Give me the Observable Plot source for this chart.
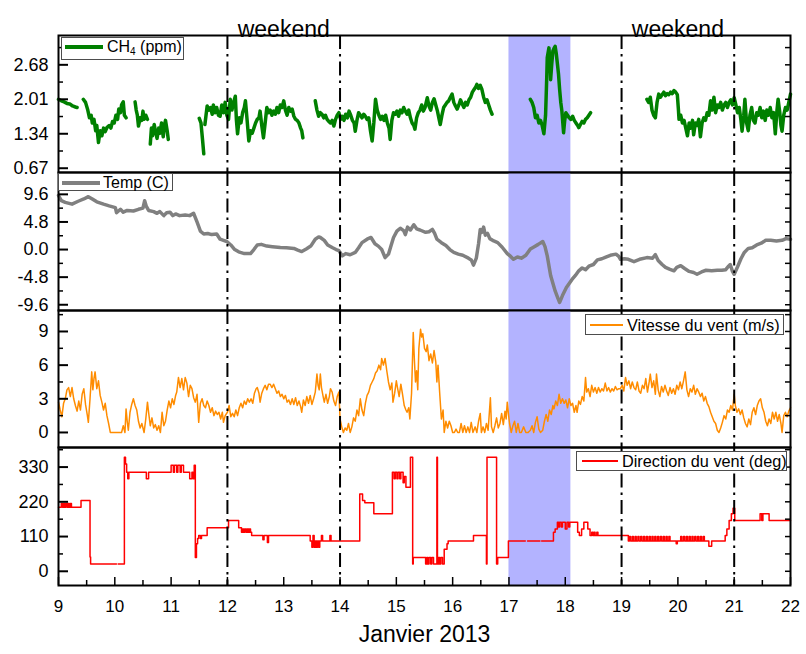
<!DOCTYPE html>
<html><head><meta charset="utf-8">
<script src="https://cdn.jsdelivr.net/npm/d3@7"></script>
<script src="https://cdn.jsdelivr.net/npm/@observablehq/plot@0.6"></script>
<style>
body{margin:0;background:#fff;}
#chart{position:relative;width:806px;height:654px;font-family:"Liberation Sans",Arial,sans-serif;color:#000;overflow:hidden;}
#chart svg{position:absolute;left:0;}
.lg{position:absolute;white-space:nowrap;}
</style></head><body><div id="chart"></div><script>
// ---------- data ----------
const xDomain = [9, 22];
const dayTicks = [9,10,11,12,13,14,15,16,17,18,19,20,21,22];
const halfDayTicks = [9.5,10.5,11.5,12.5,13.5,14.5,15.5,16.5,17.5,18.5,19.5,20.5,21.5];
const weekendBounds = [12, 14, 19, 21];
const weekendLabels = [{x: 13, text: "weekend"}, {x: 20, text: "weekend"}];
const highlight = [[17, 18.1]];
const xTitle = "Janvier 2013";

const ch4Ticks = [0.67, 1.34, 2.01, 2.68];
const ch4Minor = [1.005, 1.675, 2.345, 3.015];
const tempTicks = [-9.6, -4.8, 0, 4.8, 9.6];
const tempMinor = [-7.2, -2.4, 2.4, 7.2, 12.0];
const speedTicks = [0, 3, 6, 9];
const speedMinor = [1.5, 4.5, 7.5, 10.5];
const dirTicks = [0, 110, 220, 330];
const dirMinor = [55, 165, 275, 385];

// CH4 (ppm)
const ch4 = [[9.00,2.01],[9.05,1.98],[9.10,1.96],[9.15,1.93],[9.20,1.92],[9.25,1.88],[9.30,1.86],[9.33,1.85],[9.34,null],
[9.44,2.01],[9.48,1.95],[9.52,1.80],[9.55,1.65],[9.58,1.70],[9.60,1.55],[9.63,1.62],[9.66,1.40],[9.68,1.50],[9.71,1.17],[9.74,1.40],[9.77,1.30],[9.80,1.45],[9.83,1.38],[9.86,1.46],[9.90,1.50],[9.93,1.45],[9.96,1.58],[9.99,1.55],[10.02,1.70],[10.05,1.62],[10.07,1.82],[10.10,1.75],[10.12,1.90],[10.15,1.96],[10.17,1.70],[10.20,1.65],[10.21,null],
[10.36,1.96],[10.38,1.80],[10.40,1.70],[10.42,1.49],[10.45,1.65],[10.48,1.60],[10.50,1.78],[10.52,1.62],[10.55,1.70],[10.58,1.62],[10.60,null],
[10.63,1.14],[10.65,1.45],[10.67,1.30],[10.70,1.52],[10.72,1.40],[10.75,1.25],[10.78,1.45],[10.80,1.35],[10.83,1.55],[10.86,1.28],[10.88,1.50],[10.90,1.60],[10.93,1.40],[10.95,1.23],[10.96,null],
[11.50,1.64],[11.53,1.55],[11.56,1.20],[11.58,0.95],[11.59,null],
[11.60,1.52],[11.62,1.70],[11.64,1.88],[11.67,1.80],[11.70,1.85],[11.73,1.72],[11.75,1.90],[11.78,1.75],[11.81,1.85],[11.84,1.70],[11.87,1.68],[11.90,1.90],[11.93,1.75],[11.96,1.95],[11.99,1.70],[12.02,1.62],[12.05,2.01],[12.08,1.80],[12.11,1.95],[12.14,2.07],[12.16,1.60],[12.18,1.34],[12.21,1.65],[12.24,1.55],[12.27,1.75],[12.30,1.85],[12.32,1.98],[12.35,1.60],[12.38,1.20],[12.41,1.40],[12.44,1.35],[12.47,1.45],[12.50,1.55],[12.53,1.62],[12.56,1.65],[12.58,1.78],[12.61,1.50],[12.64,1.26],[12.67,1.55],[12.70,1.85],[12.73,1.75],[12.76,1.80],[12.79,1.70],[12.82,1.78],[12.85,1.72],[12.88,1.85],[12.91,1.75],[12.94,1.90],[12.97,1.85],[13.00,1.98],[13.03,1.80],[13.06,1.70],[13.09,1.85],[13.12,1.78],[13.15,1.82],[13.18,1.68],[13.21,1.62],[13.24,1.60],[13.27,1.55],[13.30,1.45],[13.32,1.40],[13.34,1.26],[13.35,null],
[13.56,1.98],[13.59,1.80],[13.62,1.68],[13.65,1.75],[13.68,1.72],[13.71,1.65],[13.74,1.70],[13.77,1.62],[13.80,1.58],[13.83,1.55],[13.86,1.60],[13.89,1.49],[13.92,1.62],[13.95,1.70],[13.98,1.75],[14.01,1.62],[14.04,1.68],[14.07,1.60],[14.10,1.72],[14.13,1.65],[14.16,1.78],[14.19,1.70],[14.22,1.60],[14.25,1.55],[14.27,1.39],[14.30,1.60],[14.33,1.75],[14.36,1.70],[14.39,1.65],[14.42,1.72],[14.45,1.68],[14.48,1.62],[14.51,1.65],[14.54,1.40],[14.57,1.20],[14.60,1.55],[14.63,2.01],[14.66,1.80],[14.69,1.70],[14.72,1.62],[14.75,1.68],[14.78,1.60],[14.81,1.70],[14.84,1.55],[14.87,1.45],[14.89,1.23],[14.92,1.60],[14.95,1.75],[14.98,1.72],[15.01,1.78],[15.04,1.68],[15.07,1.80],[15.10,1.75],[15.13,1.85],[15.16,1.78],[15.19,1.72],[15.22,1.80],[15.25,1.65],[15.28,1.55],[15.31,1.50],[15.33,1.43],[15.36,1.65],[15.39,1.75],[15.42,1.80],[15.45,1.90],[15.48,1.78],[15.51,1.85],[15.53,1.95],[15.55,2.04],[15.58,1.88],[15.61,1.80],[15.64,1.95],[15.67,2.02],[15.70,1.90],[15.73,1.78],[15.76,1.62],[15.78,1.52],[15.81,1.70],[15.84,1.85],[15.87,1.90],[15.90,1.95],[15.93,1.98],[15.96,2.05],[15.99,2.11],[16.02,1.95],[16.05,1.88],[16.08,1.82],[16.11,1.90],[16.14,2.00],[16.17,1.92],[16.20,1.85],[16.23,1.95],[16.26,1.90],[16.29,2.00],[16.32,2.05],[16.35,2.15],[16.38,2.20],[16.41,2.25],[16.43,2.30],[16.46,2.22],[16.49,2.28],[16.52,2.20],[16.55,2.05],[16.58,1.95],[16.61,2.00],[16.64,1.90],[16.67,1.80],[16.70,1.72],[16.71,null],
[17.38,2.01],[17.41,1.95],[17.44,1.85],[17.47,1.65],[17.50,1.70],[17.53,1.55],[17.56,1.60],[17.59,1.50],[17.62,1.34],[17.65,1.70],[17.67,2.40],[17.68,2.82],[17.70,2.95],[17.71,3.01],[17.73,2.70],[17.74,2.39],[17.76,2.70],[17.78,2.95],[17.80,3.00],[17.82,3.04],[17.84,2.90],[17.86,2.70],[17.88,2.50],[17.90,2.20],[17.92,1.95],[17.94,1.78],[17.96,1.50],[17.97,1.36],[17.99,1.60],[18.01,1.75],[18.04,1.70],[18.07,1.65],[18.10,1.62],[18.13,1.68],[18.16,1.60],[18.19,1.55],[18.22,1.50],[18.24,1.46],[18.27,1.52],[18.30,1.58],[18.33,1.55],[18.36,1.62],[18.39,1.65],[18.42,1.70],[18.45,1.75],[18.46,null],
[19.45,2.01],[19.48,1.95],[19.51,2.05],[19.54,1.80],[19.57,1.70],[19.60,1.65],[19.63,1.95],[19.66,2.11],[19.69,2.05],[19.72,2.10],[19.75,2.15],[19.78,2.08],[19.81,2.12],[19.84,2.10],[19.87,2.15],[19.90,2.12],[19.93,2.18],[19.96,2.15],[19.99,2.10],[20.01,1.80],[20.02,1.62],[20.05,1.70],[20.08,1.55],[20.11,1.60],[20.14,1.45],[20.17,1.30],[20.20,1.55],[20.23,1.45],[20.26,1.60],[20.28,1.32],[20.31,1.55],[20.34,1.50],[20.37,1.62],[20.40,1.28],[20.43,1.55],[20.46,1.65],[20.49,1.60],[20.52,1.75],[20.55,1.70],[20.58,1.98],[20.61,1.80],[20.64,2.05],[20.67,1.75],[20.70,1.90],[20.73,1.85],[20.76,1.95],[20.79,1.80],[20.82,1.90],[20.85,1.95],[20.88,1.85],[20.91,1.95],[20.94,2.00],[20.97,1.90],[21.00,2.04],[21.03,1.90],[21.06,1.75],[21.09,1.85],[21.12,1.60],[21.14,1.39],[21.17,1.70],[21.19,2.01],[21.22,1.55],[21.25,1.40],[21.28,1.70],[21.31,1.85],[21.34,1.60],[21.37,1.55],[21.40,1.75],[21.43,1.70],[21.46,1.85],[21.49,1.65],[21.52,1.78],[21.55,1.60],[21.58,1.80],[21.61,1.70],[21.64,1.85],[21.67,1.65],[21.70,1.75],[21.73,1.34],[21.76,1.80],[21.78,2.01],[21.81,1.75],[21.83,1.50],[21.85,1.39],[21.88,1.70],[21.91,1.85],[21.94,1.80],[21.97,1.95],[22.00,2.11]];

// Temperature (C)
const temp = [[9.00,9.4],[9.05,8.5],[9.12,8.2],[9.24,7.9],[9.35,8.4],[9.45,8.8],[9.53,9.2],[9.60,8.8],[9.68,8.3],[9.80,7.9],[9.90,7.6],[10.01,7.3],[10.03,6.4],[10.10,7.0],[10.15,6.5],[10.22,6.8],[10.33,6.7],[10.42,7.0],[10.50,7.2],[10.53,8.5],[10.56,7.5],[10.60,6.8],[10.69,6.6],[10.75,6.3],[10.80,6.6],[10.87,5.9],[10.92,6.4],[10.98,6.5],[11.03,5.9],[11.08,6.2],[11.15,5.9],[11.25,6.0],[11.33,5.9],[11.40,6.3],[11.46,4.8],[11.52,3.2],[11.58,2.7],[11.65,2.8],[11.72,2.6],[11.81,2.7],[11.87,1.8],[11.93,1.6],[11.99,1.4],[12.06,0.8],[12.13,0.0],[12.20,-0.4],[12.23,-0.5],[12.30,-0.7],[12.41,-0.7],[12.47,0.0],[12.53,0.8],[12.60,0.9],[12.70,0.6],[12.80,0.5],[12.94,0.35],[13.05,0.3],[13.18,0.2],[13.25,-0.1],[13.32,-0.35],[13.40,0.1],[13.48,0.6],[13.56,1.8],[13.62,2.2],[13.65,2.1],[13.72,1.6],[13.78,0.8],[13.86,0.35],[13.93,0.0],[13.98,-0.2],[14.04,-1.1],[14.10,-0.7],[14.18,-0.9],[14.27,-0.5],[14.33,0.3],[14.39,1.2],[14.48,1.8],[14.55,2.1],[14.62,1.0],[14.68,0.6],[14.74,0.0],[14.80,-1.4],[14.86,-0.8],[14.90,0.5],[14.95,2.1],[15.01,3.2],[15.07,3.7],[15.13,3.3],[15.16,2.6],[15.20,3.9],[15.25,3.4],[15.31,4.3],[15.36,3.6],[15.42,3.4],[15.52,3.0],[15.58,3.1],[15.64,3.5],[15.68,2.8],[15.72,1.8],[15.80,1.2],[15.88,0.7],[15.95,0.0],[16.02,-0.5],[16.10,-0.8],[16.18,-1.0],[16.28,-1.5],[16.33,-1.8],[16.37,-2.7],[16.42,-1.5],[16.46,1.0],[16.49,3.5],[16.52,3.0],[16.55,3.9],[16.58,2.5],[16.62,2.8],[16.66,1.9],[16.73,1.5],[16.80,1.2],[16.88,0.4],[16.97,-0.7],[17.03,-1.2],[17.08,-1.7],[17.15,-1.3],[17.22,-1.5],[17.30,-1.0],[17.38,0.1],[17.45,0.5],[17.52,0.9],[17.60,1.4],[17.64,0.5],[17.68,-1.1],[17.74,-4.5],[17.82,-7.2],[17.87,-8.5],[17.90,-9.2],[17.95,-8.0],[18.02,-6.6],[18.12,-5.2],[18.18,-4.5],[18.24,-3.7],[18.30,-3.2],[18.36,-3.5],[18.42,-2.9],[18.50,-2.6],[18.57,-1.8],[18.65,-1.6],[18.72,-1.3],[18.80,-1.0],[18.90,-0.8],[18.95,-1.2],[18.98,-1.7],[19.05,-1.6],[19.12,-1.7],[19.22,-2.1],[19.32,-1.7],[19.45,-1.4],[19.55,-1.5],[19.60,-0.9],[19.65,-1.9],[19.72,-2.6],[19.78,-3.1],[19.85,-3.4],[19.93,-3.7],[19.98,-3.1],[20.05,-2.8],[20.12,-3.3],[20.20,-3.8],[20.28,-4.0],[20.34,-4.3],[20.42,-3.9],[20.50,-3.6],[20.60,-3.7],[20.70,-3.6],[20.78,-3.6],[20.85,-3.5],[20.90,-2.9],[20.93,-2.6],[20.97,-3.8],[21.00,-4.3],[21.06,-3.0],[21.12,-1.6],[21.18,-0.5],[21.25,0.2],[21.32,0.3],[21.40,0.8],[21.48,1.1],[21.56,1.6],[21.65,1.6],[21.75,1.5],[21.85,1.6],[21.92,1.9],[22.00,1.8]];

// Wind speed (m/s)
const speed = [[9.00,2.7],[9.03,2.0],[9.06,1.4],[9.09,2.6],[9.12,3.0],[9.15,3.8],[9.18,4.0],[9.21,3.2],[9.24,4.0],[9.27,3.0],[9.30,2.4],[9.33,1.9],[9.36,2.8],[9.39,2.0],[9.42,3.4],[9.45,3.9],[9.48,2.5],[9.51,1.6],[9.53,0.9],[9.56,3.0],[9.59,5.4],[9.61,3.8],[9.63,4.8],[9.65,5.4],[9.68,3.9],[9.71,4.6],[9.74,3.3],[9.77,2.7],[9.80,2.0],[9.83,2.6],[9.86,1.5],[9.89,0.8],[9.92,0.0],[9.97,0.0],[10.02,0.0],[10.08,0.0],[10.12,0.0],[10.15,0.6],[10.18,0.0],[10.20,2.1],[10.22,1.0],[10.24,0.2],[10.27,1.8],[10.30,2.5],[10.33,3.0],[10.36,2.4],[10.39,2.0],[10.42,1.0],[10.45,0.4],[10.48,0.8],[10.52,0.0],[10.55,1.2],[10.58,2.7],[10.60,1.8],[10.63,0.6],[10.66,1.3],[10.69,0.4],[10.72,0.7],[10.75,0.2],[10.78,0.6],[10.81,0.0],[10.84,1.8],[10.87,0.6],[10.90,1.0],[10.93,2.0],[10.96,2.8],[10.99,2.2],[11.02,3.0],[11.05,2.5],[11.08,3.3],[11.10,3.6],[11.13,4.9],[11.16,4.0],[11.19,4.8],[11.22,3.8],[11.25,4.9],[11.28,4.4],[11.31,3.2],[11.34,4.2],[11.37,3.9],[11.40,3.1],[11.43,2.7],[11.46,3.4],[11.49,0.9],[11.52,2.6],[11.55,3.0],[11.58,2.4],[11.61,2.2],[11.64,2.8],[11.67,2.4],[11.70,1.8],[11.73,2.2],[11.76,1.5],[11.79,1.9],[11.82,1.6],[11.85,1.8],[11.88,1.2],[11.91,1.8],[11.93,0.9],[11.96,1.5],[12.00,1.8],[12.03,2.4],[12.06,1.4],[12.09,1.7],[12.12,1.4],[12.15,2.0],[12.18,1.5],[12.21,2.2],[12.24,2.6],[12.27,2.2],[12.30,2.8],[12.33,2.5],[12.36,3.0],[12.39,2.7],[12.42,3.0],[12.45,2.6],[12.48,3.5],[12.51,3.9],[12.53,4.0],[12.56,3.5],[12.58,2.7],[12.61,3.5],[12.64,3.9],[12.67,4.2],[12.70,3.8],[12.73,4.3],[12.76,4.3],[12.79,4.0],[12.82,4.3],[12.85,3.9],[12.88,3.5],[12.91,3.7],[12.94,3.2],[12.97,3.4],[13.00,3.0],[13.03,3.3],[13.06,2.7],[13.09,2.9],[13.12,2.5],[13.15,3.0],[13.18,2.5],[13.21,3.1],[13.24,2.4],[13.27,2.8],[13.30,2.3],[13.32,1.8],[13.35,2.9],[13.38,2.4],[13.41,3.2],[13.44,2.6],[13.47,3.3],[13.50,2.5],[13.53,3.0],[13.56,3.6],[13.59,5.2],[13.61,4.2],[13.63,3.8],[13.65,5.2],[13.67,4.0],[13.70,3.2],[13.72,2.7],[13.75,3.4],[13.78,2.6],[13.81,3.2],[13.83,3.9],[13.86,3.6],[13.89,2.8],[13.92,2.4],[13.95,3.2],[13.98,3.6],[14.00,1.2],[14.03,0.5],[14.06,0.0],[14.09,0.4],[14.12,0.2],[14.15,0.8],[14.18,0.0],[14.21,0.5],[14.24,1.3],[14.27,1.0],[14.30,2.0],[14.33,1.5],[14.36,3.0],[14.39,2.0],[14.42,1.5],[14.45,2.6],[14.48,3.3],[14.51,3.6],[14.54,4.2],[14.57,4.5],[14.60,4.8],[14.63,5.3],[14.66,5.5],[14.69,6.0],[14.72,5.6],[14.74,6.6],[14.77,6.0],[14.80,6.6],[14.83,5.5],[14.86,4.5],[14.89,3.8],[14.92,4.4],[14.94,2.7],[14.97,3.5],[15.00,4.6],[15.02,4.0],[15.05,3.2],[15.08,4.3],[15.11,3.4],[15.14,2.4],[15.17,2.0],[15.19,1.8],[15.22,2.2],[15.24,1.2],[15.27,3.5],[15.30,8.9],[15.32,6.5],[15.34,4.5],[15.36,5.5],[15.38,3.8],[15.40,7.5],[15.43,9.2],[15.45,8.5],[15.47,8.8],[15.50,7.5],[15.53,7.2],[15.55,7.8],[15.58,6.4],[15.61,7.0],[15.64,6.2],[15.67,7.3],[15.70,6.3],[15.72,4.5],[15.74,6.0],[15.77,3.5],[15.80,1.2],[15.83,2.0],[15.85,0.0],[15.88,1.0],[15.91,0.4],[15.94,1.0],[15.97,0.6],[16.00,0.0],[16.03,0.0],[16.06,0.3],[16.09,0.0],[16.12,0.0],[16.15,0.8],[16.18,0.0],[16.21,0.6],[16.24,0.0],[16.27,0.5],[16.30,0.0],[16.33,0.9],[16.36,0.0],[16.40,0.5],[16.43,0.0],[16.46,1.0],[16.49,1.7],[16.51,0.0],[16.54,0.5],[16.57,0.0],[16.60,0.8],[16.63,0.2],[16.67,3.1],[16.69,0.5],[16.72,0.0],[16.75,0.6],[16.78,1.3],[16.81,0.4],[16.84,0.8],[16.87,1.7],[16.90,0.7],[16.93,1.9],[16.95,1.2],[16.97,2.7],[16.99,1.7],[17.01,0.8],[17.04,0.0],[17.07,0.6],[17.10,1.0],[17.13,0.0],[17.16,0.8],[17.19,0.0],[17.22,0.0],[17.26,0.5],[17.30,0.0],[17.34,0.0],[17.38,0.2],[17.41,0.6],[17.44,0.0],[17.47,0.9],[17.50,1.4],[17.53,0.3],[17.56,0.0],[17.60,0.2],[17.63,1.0],[17.66,1.6],[17.69,1.0],[17.72,2.0],[17.75,1.6],[17.78,2.4],[17.80,2.1],[17.83,2.8],[17.86,2.4],[17.89,3.4],[17.92,2.6],[17.95,3.0],[17.98,2.6],[18.01,2.9],[18.04,2.2],[18.07,3.0],[18.10,2.4],[18.13,2.6],[18.16,1.8],[18.19,2.4],[18.21,1.8],[18.24,2.8],[18.27,2.5],[18.30,3.2],[18.33,2.8],[18.36,4.9],[18.38,3.6],[18.41,3.9],[18.44,3.2],[18.47,4.2],[18.50,3.6],[18.53,4.0],[18.56,3.5],[18.59,4.0],[18.62,3.6],[18.65,3.9],[18.68,3.7],[18.71,4.4],[18.74,3.7],[18.77,4.0],[18.80,3.6],[18.83,3.9],[18.86,3.7],[18.89,4.1],[18.92,3.8],[18.95,3.9],[18.98,3.9],[19.01,4.2],[19.04,3.7],[19.07,4.9],[19.10,4.2],[19.13,4.6],[19.16,3.9],[19.19,4.5],[19.22,4.0],[19.25,3.8],[19.28,4.5],[19.31,3.7],[19.34,3.5],[19.37,4.2],[19.40,3.9],[19.43,4.8],[19.46,3.6],[19.49,4.5],[19.51,5.2],[19.54,4.0],[19.57,4.6],[19.60,3.4],[19.62,5.2],[19.65,3.8],[19.68,3.2],[19.71,4.1],[19.74,3.6],[19.77,4.2],[19.80,3.7],[19.83,3.3],[19.86,4.0],[19.89,3.5],[19.92,3.9],[19.95,3.4],[19.98,4.2],[20.01,3.8],[20.04,4.5],[20.07,3.9],[20.10,4.6],[20.13,5.4],[20.16,3.8],[20.19,3.2],[20.22,3.9],[20.25,3.6],[20.28,4.2],[20.31,3.4],[20.34,3.9],[20.37,3.6],[20.40,3.2],[20.43,3.5],[20.46,2.8],[20.49,3.2],[20.52,2.6],[20.55,2.3],[20.58,1.8],[20.61,1.4],[20.64,1.0],[20.67,0.8],[20.70,0.2],[20.73,0.0],[20.76,0.4],[20.79,0.9],[20.82,1.5],[20.85,1.2],[20.88,2.0],[20.91,1.8],[20.94,2.4],[20.97,2.0],[21.00,3.4],[21.02,2.4],[21.05,1.8],[21.08,2.1],[21.11,1.6],[21.14,2.0],[21.17,1.3],[21.20,0.8],[21.23,0.5],[21.26,1.2],[21.29,0.7],[21.32,1.8],[21.35,2.2],[21.38,1.6],[21.41,2.4],[21.44,2.8],[21.47,3.0],[21.50,2.2],[21.53,1.8],[21.56,1.0],[21.59,0.6],[21.62,1.2],[21.65,0.8],[21.68,1.8],[21.71,1.2],[21.74,1.8],[21.77,1.0],[21.80,1.6],[21.83,0.8],[21.85,0.0],[21.88,1.5],[21.91,1.8],[21.94,1.4],[21.97,1.9],[22.00,2.2]];

// Wind direction (deg), each value holds until the next time
const direction = [[9.00,203],[9.05,215],[9.07,203],[9.09,215],[9.11,203],[9.13,215],[9.15,203],[9.17,215],[9.19,203],[9.21,215],[9.23,203],[9.40,224],[9.56,45],[9.57,23],[10.03,23],[10.04,null],
[10.06,23],[10.17,361],[10.19,340],[10.21,314],[10.23,293],[10.25,314],[10.56,293],[10.60,314],[11.00,336],[11.04,314],[11.06,336],[11.10,314],[11.12,336],[11.16,314],[11.18,336],[11.22,314],[11.33,293],[11.37,314],[11.39,293],[11.41,336],[11.43,44],[11.45,87],[11.47,104],[11.49,113],[11.52,104],[11.54,113],[11.64,138],[12.02,161],[12.20,138],[12.25,124],[12.27,134],[12.29,124],[12.31,134],[12.33,124],[12.35,134],[12.37,124],[12.39,134],[12.41,124],[12.43,113],[12.63,100],[12.65,113],[12.71,91],[12.73,113],[13.47,96],[13.50,76],[13.52,113],[13.54,76],[13.56,96],[13.58,76],[13.60,96],[13.62,76],[13.64,96],[13.67,113],[13.69,96],[13.82,113],[13.84,96],[14.35,245],[14.40,224],[14.44,217],[14.60,182],[14.93,314],[14.96,293],[14.98,314],[15.01,293],[15.03,314],[15.06,293],[15.08,314],[15.12,280],[15.14,300],[15.17,266],[15.25,361],[15.29,23],[15.30,44],[15.52,23],[15.54,44],[15.56,23],[15.58,44],[15.61,23],[15.63,44],[15.66,23],[15.72,361],[15.73,23],[15.75,44],[15.77,23],[15.79,44],[15.82,23],[15.85,70],[15.90,87],[15.92,96],[16.37,113],[16.60,23],[16.61,361],[16.78,23],[16.80,44],[16.99,96],[17.29,96],[17.30,null],
[17.33,96],[17.55,96],[17.56,null],
[17.58,96],[17.79,124],[17.82,134],[17.86,155],[17.88,140],[17.90,155],[17.93,140],[17.95,155],[18.00,134],[18.03,155],[18.06,140],[18.08,155],[18.22,124],[18.25,113],[18.29,134],[18.33,155],[18.40,134],[18.44,113],[18.47,124],[18.49,113],[18.51,124],[18.53,113],[18.56,124],[18.58,113],[19.10,113],[19.12,96],[19.14,110],[19.16,96],[19.19,110],[19.21,96],[19.24,110],[19.26,96],[19.29,110],[19.31,96],[19.34,110],[19.36,96],[19.39,110],[19.41,96],[19.44,110],[19.46,96],[19.49,110],[19.51,96],[19.54,110],[19.56,96],[19.59,110],[19.61,96],[19.64,110],[19.66,96],[19.69,110],[19.71,96],[19.74,110],[19.76,96],[19.79,110],[19.81,96],[19.84,110],[19.86,96],[19.97,87],[19.99,96],[20.05,110],[20.07,96],[20.10,110],[20.12,96],[20.15,110],[20.17,96],[20.20,110],[20.22,96],[20.25,110],[20.27,96],[20.30,110],[20.32,96],[20.35,110],[20.37,96],[20.40,110],[20.42,96],[20.45,110],[20.47,96],[20.55,79],[20.60,96],[20.84,113],[20.87,134],[20.91,161],[20.95,182],[20.98,200],[21.01,161],[21.46,182],[21.49,161],[21.51,182],[21.62,161],[22.00,161]];

// ---------- drawing ----------
const chart = document.getElementById("chart");
const FONT = '"Liberation Sans", Arial, sans-serif';
const PAD = 6;

function yAxisMarks(major, minor, fmt) {
  return [
    Plot.axisY({anchor: "left", ticks: major, tickSize: 10, dx: 10, tickFormat: () => "", label: null, strokeWidth: 2}),
    Plot.axisY({anchor: "left", ticks: minor, tickSize: 5, dx: 5, tickFormat: () => "", label: null, strokeWidth: 1.5}),
    Plot.axisY({anchor: "right", ticks: major.concat(minor), tickSize: 6, dx: -6, tickFormat: () => "", label: null, strokeWidth: 1.5}),
    Plot.axisY({anchor: "left", ticks: major, tickSize: 0, tickPadding: 10, tickFormat: fmt, label: null, fontSize: 18})
  ];
}

function panel(cfg) {
  const marginTop = cfg.marginTop ?? PAD;
  const marginBottom = cfg.marginBottom ?? PAD;
  const height = (cfg.bottom - cfg.top) + marginTop + marginBottom;
  const svg = Plot.plot({
    width: 806, height, marginLeft: 58, marginRight: 16, marginTop, marginBottom,
    style: {background: "transparent", overflow: "visible", fontFamily: FONT, fontSize: "17px", color: "black"},
    x: {domain: xDomain, axis: null},
    y: {domain: cfg.domain},
    marks: [
      Plot.rect(highlight, {x1: d => d[0], x2: d => d[1], fill: "#b3b3ff"}),
      Plot.line(cfg.data, {x: d => d[0], y: d => d[1], stroke: cfg.stroke, strokeWidth: cfg.strokeWidth, curve: cfg.curve || "linear", strokeLinejoin: "round", strokeLinecap: "round"}),
      Plot.ruleX(weekendBounds, {stroke: "black", strokeWidth: 2, strokeDasharray: "14,5,2.5,5"}),
      Plot.frame({stroke: "black", strokeWidth: 2}),
      ...yAxisMarks(cfg.major, cfg.minor, cfg.fmt),
      ...(cfg.extra || [])
    ]
  });
  svg.style.top = (cfg.top - marginTop) + "px";
  chart.appendChild(svg);
}

panel({top: 35, bottom: 172, marginTop: 35, domain: [0.587, 3.25], data: ch4, stroke: "#008000", strokeWidth: 3.5,
  major: ch4Ticks, minor: ch4Minor, fmt: d => d.toFixed(2),
  extra: [Plot.text(weekendLabels, {x: "x", text: "text", frameAnchor: "top", dy: -15, fontSize: 23})]});
panel({top: 172, bottom: 310, domain: [-10.6, 13.4], data: temp, stroke: "#808080", strokeWidth: 3.5,
  major: tempTicks, minor: tempMinor, fmt: d => d.toFixed(1)});
panel({top: 310, bottom: 447, domain: [-1.34, 10.87], data: speed, stroke: "#ff8c00", strokeWidth: 1.5,
  major: speedTicks, minor: speedMinor, fmt: d => String(d)});
panel({top: 447, bottom: 585, marginBottom: 69, domain: [-45, 392], data: direction, stroke: "#ff0000", strokeWidth: 1.5, curve: "step-after",
  major: dirTicks, minor: dirMinor, fmt: d => String(d),
  extra: [
    Plot.axisX({anchor: "bottom", ticks: dayTicks, tickSize: 8, dy: -8, tickFormat: () => "", label: null, strokeWidth: 1.5}),
    Plot.axisX({anchor: "bottom", ticks: halfDayTicks, tickSize: 5, dy: -5, tickFormat: () => "", label: null, strokeWidth: 1.5}),
    Plot.axisX({anchor: "bottom", ticks: dayTicks, tickSize: 0, tickPadding: 14, tickFormat: d => String(d), label: null, fontSize: 17}),
    Plot.text([xTitle], {text: d => d, frameAnchor: "bottom", dy: 56, fontSize: 23})
  ]});

// ---------- legends (HTML) ----------
function box(l, t, w, h) {
  const d = document.createElement("div");
  d.className = "lg";
  Object.assign(d.style, {left: l + "px", top: t + "px", width: w + "px", height: h + "px", background: "#fff", border: "1px solid #4d4d4d", boxSizing: "border-box"});
  chart.appendChild(d);
}
function swatch(x1, x2, y, color, w) {
  const d = document.createElement("div");
  d.className = "lg";
  Object.assign(d.style, {left: x1 + "px", top: (y - w / 2) + "px", width: (x2 - x1) + "px", height: w + "px", background: color});
  chart.appendChild(d);
}
function label(x, y, html, size) {
  const d = document.createElement("div");
  d.className = "lg";
  d.innerHTML = html;
  Object.assign(d.style, {left: x + "px", top: y + "px", transform: "translateY(-50%)", fontSize: size + "px", lineHeight: "1"});
  chart.appendChild(d);
}
box(61, 37, 123, 23); swatch(65, 103, 47, "#008000", 4); label(107, 47.5, 'CH<sub style="font-size:10px;vertical-align:-3px">4</sub> (ppm)', 16);
box(58, 173, 115, 18); swatch(62, 100, 182.5, "#808080", 4); label(103, 182.5, "Temp (C)", 16);
box(585, 314, 199, 21); swatch(590, 623, 325, "#ff8c00", 2); label(627, 325, "Vitesse du vent (m/s)", 16.3);
box(576, 451, 211, 20); swatch(582, 618, 461, "#ff0000", 2); label(622, 461, "Direction du vent (deg)", 16.3);
</script></body></html>
